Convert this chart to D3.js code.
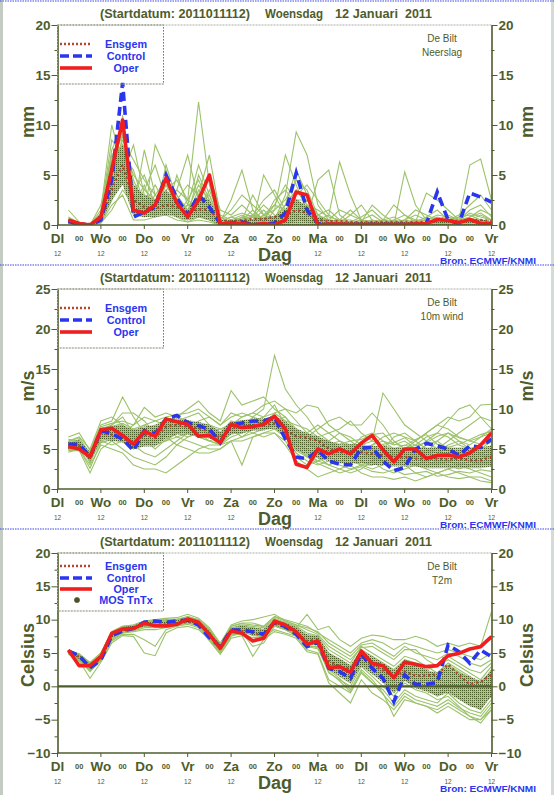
<!DOCTYPE html>
<html><head><meta charset="utf-8">
<script src="https://cdn.jsdelivr.net/npm/d3@7"></script>
<style>
html,body{margin:0;padding:0;background:#fff;}
svg{display:block;font-family:"Liberation Sans",Arial,Helvetica,sans-serif;}
</style></head><body>
<svg id="c" width="554" height="795"></svg>
<script>
// ---------------- DATA ----------------
const HOURS=[6,12,18,24,30,36,42,48,54,60,66,72,78,84,90,96,102,108,114,120,126,132,138,144,150,156,162,168,174,180,186,192,198,204,210,216,222,228,234,240];
const TICK_HOURS=[0,12,24,36,48,60,72,84,96,108,120,132,144,156,168,180,192,204,216,228,240];
const TICK_LABELS=["Dl","00","Wo","00","Do","00","Vr","00","Za","00","Zo","00","Ma","00","Dl","00","Wo","00","Do","00","Vr"];
const SUB_LABELS=["12","","12","","12","","12","","12","","","","12","","12","","12","","12","","12"];
const TITLE_PARTS=["(Startdatum: 2011011112)","Woensdag","12 Januari","2011"];
const LEGEND_ITEMS=["Ensgem","Control","Oper","MOS TnTx"];

// Neerslag (mm)
const PRECIP_OPER=[0.5,0.15,0,0.8,5.5,10.5,1.5,1.2,2.0,4.7,2.2,0.8,2.5,5.0,0.1,0.2,0.15,0,0.15,0,0.5,3.3,3.0,0,0.1,0.1,0.05,0.05,0.05,0.05,0.05,0.05,0.1,0.15,0.55,0.45,0.25,0.55,0.15,0.15];
const PRECIP_CONTROL=[0.35,0.1,0,0.5,4.5,14.2,0.8,1.3,1.8,5.0,2.7,1.0,3.0,1.8,0.15,0.2,0.3,0.05,0.05,0.2,1.2,5.2,1.5,0.15,0.05,0.05,0.05,0.05,0.05,0.05,0.05,0.05,0.05,0.15,3.3,0.5,0.15,3.2,2.8,2.3];
const PRECIP_ENSGEM=[0.4,0.15,0.1,0.6,3.5,6.0,2.5,1.8,1.6,2.0,1.8,1.2,1.6,1.5,0.4,0.4,0.5,0.6,0.6,0.8,1.0,1.5,1.2,0.5,0.4,0.4,0.3,0.3,0.3,0.3,0.3,0.3,0.3,0.3,0.4,0.5,0.4,0.5,0.5,0.4];
const PRECIP_LO=[0.1,0,0,0.3,2.5,4.0,1.0,0.8,0.8,1.0,0.8,0.5,0.8,0.5,0,0,0,0,0,0,0,0,0,0,0,0,0,0,0,0,0,0,0,0,0,0,0,0,0,0];
const PRECIP_HI=[0.6,0.2,0.1,1.2,6.5,8.0,4.0,3.0,2.5,3.5,2.5,1.5,3.0,2.5,0.5,0.5,0.6,0.6,0.8,0.9,1.6,2.6,1.9,0.8,0.5,0.4,0.3,0.3,0.3,0.3,0.3,0.3,0.3,0.3,0.3,0.3,0.3,0.5,0.6,0.4];
const PRECIP_MEMBERS=[
[0.3,0.1,0,0.8,6.0,9.5,3.0,1.5,2.0,3.5,1.5,0.8,2.0,1.2,0.1,0.3,0.5,0.2,0.1,0.3,1.0,2.5,1.5,0.3,0.1,0,0,0,0,0,0.1,0.2,0.1,0,0.1,0.2,0.3,0.5,0.4,0.2],
[0.5,0.2,0,0.3,3.0,11.0,2.0,4.0,1.0,2.5,3.0,1.0,5.0,2.5,0.2,0.1,0,0,0.3,0.8,2.0,5.5,3.0,0.5,0.2,0.3,0.1,0,0,0,0,0,0,0,0,0,0.2,0.8,1.2,0.5],
[0.2,0,0,1.2,8.5,7.0,5.5,2.0,1.0,1.5,1.0,2.5,12.3,4.0,0.5,0,0.2,0.8,0.3,0,0.5,1.0,0.5,0.1,0,0,0.1,0.5,1.0,0.3,0,0,0,0,0.2,0.5,0.3,0.1,0,0],
[1.5,0.3,0,0.5,4.5,6.5,1.5,7.5,3.0,2.0,0.8,0.5,1.5,2.0,0.3,2.5,5.5,1.5,0.2,0,0.3,0.8,0.3,0,0,0,0,0,0,0,0,0,0,0,0,0,0,0,0,0],
[0.4,0.1,0,2.0,7.0,5.0,8.0,3.0,2.5,4.0,2.0,1.0,3.0,7.0,1.0,0.5,0.2,0,0,0.5,3.0,9.3,7.0,2.0,0.5,0.2,0,0,0,0,0,0,0,0,0,0,0,0,0,0],
[0.2,0,0,0.6,5.0,8.0,2.5,1.0,8.0,5.5,1.5,0.5,0.8,0.5,0,0,0,0,0,0,0.2,0.5,0.8,4.5,5.5,1.0,0.2,0,0,0,0.5,1.0,0.5,0.2,0,0,0.5,1.5,2.0,0.8],
[0.3,0.1,0,0.3,2.5,4.5,1.0,2.0,4.0,2.0,3.5,7.0,2.5,1.0,0.1,0,0,0.2,5.0,3.0,1.0,2.0,1.0,0.5,1.0,6.3,3.0,0.5,0,0,0,0,0,0,0,0,0,0,0,0],
[0.8,0.2,0,0.2,1.5,3.5,2.0,1.5,1.0,6.0,2.5,1.5,1.0,0.5,0,0,0,0,0,0,0,0,0,0,0,0,0,0,0,0,0,0,0,0,0,0,0,0,0,0],
[0.3,0,0,1.5,10.0,6.0,3.5,5.0,2.0,1.0,5.0,2.0,6.0,3.0,0.3,0.8,0.5,3.0,1.0,0.5,0.3,1.5,2.5,1.0,0.3,0.2,1.0,2.0,0.5,0,0,0,0,0,0,0,0,0,0,0],
[0.2,0,0,0.4,3.5,9.0,4.0,2.5,1.5,3.0,1.2,0.8,1.5,1.0,0.5,0.3,0,0,0,1.5,7.0,4.0,1.5,0.3,0,0,0,0,0,0,0,5.3,2.0,0.5,0,0,0,0,0,0],
[0.5,0.1,0,0.8,4.0,7.5,1.2,0.8,1.2,1.8,0.8,0.3,0.8,1.5,0.2,0.1,0,0,0,0,0,0.5,1.0,0.5,0.2,0,0,0,0,0.5,2.0,1.0,0.3,3.2,2.5,1.5,0.5,6.0,6.6,2.5],
[0.3,0.1,0,0.5,6.0,5.5,2.0,3.5,6.0,2.5,1.0,1.5,4.0,2.5,0.3,0.2,0.5,0.5,0.5,0.5,0.8,3.5,2.0,0.5,0.3,0.5,0.3,0.2,0.3,0.5,0.3,0.2,0.5,0.5,0.8,0.5,1.0,2.0,3.0,1.5],
[0.2,0,0,0.2,2.0,3.0,0.5,0.5,0.8,1.0,0.5,0.3,0.5,0.3,0,0,0,0,0,0,0,0,0,0,0,0,0,0,0,0,0,0,0,0,0,0,0,0,0,0],
[0.6,0.2,0,1.0,5.5,8.5,6.5,4.5,3.0,4.5,2.0,1.0,2.0,5.0,1.5,1.0,2.0,1.0,2.5,3.5,1.5,1.0,0.5,0.2,0,0,0.2,0.3,2.0,1.0,0.3,0.5,1.5,1.0,0.5,0.3,0.2,0.5,1.0,0.5],
[0.3,0,0,0.6,7.5,10.0,2.5,1.8,1.5,2.5,1.5,1.0,3.5,1.5,0.2,0.5,1.0,0.5,1.5,0.5,0.2,0.8,0.5,0.2,0.2,0.5,1.5,0.5,0.2,0,0,0,0.2,0.5,1.0,0.8,0.5,1.2,0.8,0.5],
[0.2,0.1,0,0.3,4.5,6.0,3.0,2.5,2.0,3.5,4.5,2.5,1.5,0.8,0.2,0,0.3,1.0,0.5,2.0,4.0,2.5,1.2,0.5,0.3,0.2,0,0,0,0,0,0,0,0,0,0,0,0,0,0],
[0.4,0.1,0,0.7,5.0,7.0,2.0,1.5,3.0,1.5,2.5,4.0,3.0,2.0,0.5,1.5,3.0,2.0,1.0,1.5,2.5,4.5,3.5,1.0,0.5,0.3,0.2,0.5,0.3,0.2,0.2,0.5,1.0,0.5,0.3,0.5,0.8,0.5,0.3,0.2],
[0.3,0.1,0,0.4,4.0,6.5,3.5,3.0,2.0,2.5,1.0,2.0,2.5,1.5,0.4,0.8,1.2,0.8,2.0,1.0,0.5,1.5,2.0,1.5,0.8,0.5,0.3,0.8,1.5,0.5,0.2,0.2,0.3,0.2,0.5,1.0,0.5,0.3,0.5,0.3],
[0.2,0,0,0.9,6.5,9.0,4.5,2.0,1.5,4.0,3.0,1.5,1.0,3.5,0.8,0.3,0.5,1.5,0.5,2.5,3.5,2.0,1.0,0.3,0.2,0.5,0.5,0.2,0,0,0.3,0.5,0.3,0.5,0.3,0.2,0.5,0.8,1.5,1.0],
[0.6,0.2,0,0.5,3.0,5.0,2.5,2.0,1.5,2.0,2.0,1.0,2.0,1.0,0.2,0.2,0.8,1.0,0.8,0.5,1.0,2.5,2.5,1.0,1.5,0.5,0.2,0,0,0,0,0,0.2,0.3,0.2,0.1,0.1,0.3,0.5,0.2],
[0.3,0.1,0,1.1,7.0,8.0,5.0,3.5,2.5,3.0,2.0,1.0,2.5,3.0,0.3,0.5,0.2,0.3,1.0,2.0,1.5,3.0,4.0,2.5,1.0,0.3,0.2,0.3,0.5,0.3,0.5,0.2,0.3,0.8,1.5,0.5,0.2,0.3,0.2,0.2],
[0.2,0.1,0,0.3,2.5,5.5,1.5,1.0,2.5,3.0,1.5,2.0,1.5,1.0,0.2,0.1,0.3,0.5,0.3,0.2,0.5,1.0,1.5,0.5,0.3,0.2,0,0,0.2,0.5,0.8,0.3,0.2,0.1,0.2,0.3,0.8,1.0,0.5,0.3],
[0.4,0.2,0,0.6,5.0,8.0,3.0,2.5,1.8,2.8,3.5,2.5,4.5,2.0,0.5,0.3,0.8,0.5,0.2,0.5,2.0,3.5,2.0,0.8,0.5,1.5,1.0,0.5,0.2,0.1,0,0,0,0,0,0,0,0,0,0],
[0.3,0.1,0,0.8,5.5,7.2,2.8,2.2,2.2,3.2,2.2,1.4,2.2,2.0,0.3,0.4,0.6,0.8,0.6,0.8,1.2,2.2,1.6,0.6,0.4,0.3,0.3,0.2,0.2,0.2,0.2,0.3,0.2,0.3,0.4,0.4,0.3,0.6,0.5,0.3]
];

// 10m wind (m/s)
const WIND_OPER=[5.3,5.0,4.0,7.4,7.6,6.7,5.6,7.2,6.6,8.75,8.4,8.1,6.6,6.7,5.8,8.1,7.7,7.8,8.1,9.1,7.5,3.1,2.7,5.0,4.4,5.0,4.4,5.75,6.7,4.9,3.4,5.0,5.0,3.8,4.2,4.25,4.0,4.5,5.5,7.0];
const WIND_CONTROL=[5.6,5.6,4.0,7.3,6.9,6.25,4.8,7.3,6.9,8.75,9.2,8.3,7.9,7.5,5.8,8.1,8.25,8.5,8.5,8.95,6.25,4.0,3.8,4.8,3.5,3.1,3.0,5.1,5.2,3.5,2.3,2.7,5.0,5.7,5.4,5.0,4.2,5.4,5.2,6.25];
const WIND_ENSGEM=[5.4,5.4,4.2,7.0,6.8,6.4,5.6,6.8,6.4,7.8,8.0,7.8,7.6,7.2,6.4,7.6,7.8,8.0,8.0,8.2,7.4,6.6,6.4,6.0,5.0,4.6,4.6,4.6,4.4,4.2,4.0,4.0,3.8,3.8,3.8,3.7,3.8,3.6,3.6,4.0];
const WIND_LO=[5.0,5.2,3.5,6.2,6.0,5.8,5.0,5.3,5.3,6.3,6.8,6.8,6.6,6.3,5.8,6.8,7.0,7.3,7.3,7.6,6.6,4.8,4.3,3.8,3.5,3.2,3.2,3.2,3.0,3.0,2.8,2.8,2.8,2.6,2.6,2.6,2.6,2.6,2.6,2.8];
const WIND_HI=[5.9,6.1,4.6,7.7,7.8,8.0,7.4,7.8,8.0,8.8,8.8,8.6,8.4,8.0,7.2,8.4,8.6,8.8,8.8,9.2,8.4,7.6,7.0,6.6,6.0,5.6,5.6,5.6,5.4,5.4,5.2,5.2,5.2,5.2,5.2,5.2,5.2,5.2,5.2,5.4];
const WIND_MEMBERS=[
[5.5,6.0,4.5,7.5,8.0,9.0,7.0,8.0,7.5,8.5,9.0,8.5,8.0,7.5,7.0,8.5,8.0,8.5,9.0,10.5,8.0,6.0,5.5,5.0,4.5,4.0,5.0,4.5,4.0,3.5,3.0,3.5,4.0,4.5,5.0,4.0,3.5,4.0,4.5,5.0],
[5.0,5.2,3.5,6.5,7.0,7.5,6.0,5.5,6.0,7.0,7.5,8.0,7.5,7.0,6.0,7.5,8.0,8.5,8.5,9.0,7.5,6.5,7.0,6.0,5.5,6.0,5.5,5.0,5.5,6.0,5.0,4.5,4.0,3.5,3.0,3.5,4.0,3.5,3.0,3.5],
[6.5,7.0,4.8,8.0,8.5,11.5,9.0,7.0,6.5,6.0,6.5,7.0,6.5,6.0,5.5,6.5,7.0,7.5,8.0,9.5,10.0,8.5,7.0,8.0,7.0,6.0,5.0,6.5,7.0,6.0,5.5,6.0,5.0,4.5,6.0,7.0,6.0,5.5,6.5,7.0],
[4.8,4.8,2.0,5.0,6.0,5.0,4.0,3.5,3.0,4.0,5.5,6.5,7.0,6.5,5.5,7.0,7.5,7.0,7.5,8.0,6.5,4.5,3.5,3.0,3.5,3.0,2.5,3.0,3.5,2.5,2.0,2.5,3.0,2.5,2.0,2.5,3.0,2.5,2.0,1.5],
[5.8,5.5,4.0,7.0,6.5,7.0,8.0,9.0,8.5,8.0,7.0,7.5,8.5,9.0,8.0,9.0,9.5,9.0,8.5,8.5,9.0,7.5,6.0,5.0,6.0,7.0,6.5,5.5,4.5,5.0,6.5,7.0,6.0,5.0,4.5,5.5,6.0,5.0,4.5,4.0],
[5.2,5.8,3.8,6.0,5.5,6.0,5.0,6.0,7.0,8.0,8.5,9.0,9.5,8.0,7.5,8.0,7.5,9.0,10.0,16.7,12.5,10.5,9.0,7.0,6.0,5.0,4.0,3.5,3.0,4.0,5.0,5.5,5.0,4.0,3.5,3.0,2.5,3.0,3.5,3.0],
[6.0,6.5,5.0,8.5,9.0,8.0,6.5,7.5,8.0,7.5,6.5,6.0,5.5,5.0,5.0,6.0,6.5,7.0,6.5,7.0,6.0,4.0,3.0,3.5,4.0,4.5,4.0,3.0,2.5,3.0,3.5,3.0,2.0,1.5,2.0,2.5,2.0,1.5,1.0,0.8],
[5.3,5.5,4.2,7.2,7.5,6.5,5.5,4.5,4.0,5.0,6.0,7.0,6.5,6.0,6.5,7.5,8.5,8.0,8.5,9.0,8.5,8.0,7.5,6.5,7.0,7.5,8.5,7.0,6.0,12.0,10.0,8.0,7.0,6.0,5.0,6.0,7.0,8.0,9.0,8.5],
[5.6,6.2,3.2,6.8,8.0,9.5,9.5,8.5,7.0,6.5,5.5,5.0,4.5,4.5,5.0,6.0,3.0,6.5,7.0,7.5,6.5,5.5,5.0,4.0,3.0,2.5,2.0,2.5,3.5,4.5,4.0,3.5,4.5,5.5,6.0,5.0,4.0,4.5,5.0,6.0],
[6.2,6.0,4.5,7.8,8.2,8.5,8.0,10.2,9.0,9.5,9.0,10.0,11.0,9.5,8.5,12.3,10.5,11.0,11.5,10.0,9.0,7.0,6.5,7.5,8.5,9.0,8.0,8.0,9.5,8.0,6.0,5.0,6.0,7.0,8.0,9.0,8.5,9.0,10.5,10.6],
[4.9,5.0,3.0,5.5,5.0,4.5,3.0,2.5,2.5,2.0,3.0,4.0,5.0,5.5,5.5,6.0,6.0,6.5,7.0,7.0,5.5,3.5,2.5,1.5,2.0,2.5,3.0,2.0,1.5,1.5,1.2,1.5,1.0,1.5,2.0,1.5,1.3,1.5,1.5,1.0],
[5.4,5.7,4.0,6.2,7.2,7.0,6.5,6.0,5.5,6.0,7.0,7.5,7.5,7.0,6.5,7.5,7.5,8.0,8.0,8.5,7.0,5.5,5.0,4.5,4.0,3.5,3.5,3.0,3.0,3.5,4.0,3.5,3.0,3.5,4.0,4.5,4.5,4.0,4.0,4.5],
[5.9,6.4,4.4,7.6,7.8,8.2,7.5,7.0,7.5,7.0,8.0,8.5,8.0,7.5,7.0,8.0,9.0,9.5,9.0,9.5,8.5,6.5,4.5,3.5,4.5,5.0,4.5,5.5,6.0,5.5,4.5,5.0,5.5,6.5,7.0,6.5,5.5,5.0,5.5,6.0],
[5.1,5.4,3.6,6.6,6.8,6.0,5.0,5.5,6.5,7.5,7.0,6.5,7.0,8.0,7.0,7.0,7.0,7.5,8.0,8.0,7.5,6.0,5.5,5.5,5.0,4.5,5.0,4.5,4.0,4.5,4.5,4.0,4.0,3.0,3.5,3.5,3.0,3.5,3.5,3.0],
[5.7,5.9,4.6,7.4,7.6,7.8,7.2,6.8,7.8,7.2,7.6,7.8,7.8,7.6,7.4,8.2,8.4,8.2,8.6,8.8,7.8,7.0,6.8,6.2,5.6,5.2,5.6,5.4,5.0,5.6,5.8,6.4,5.4,5.8,6.6,7.0,6.4,6.0,5.6,5.8],
[5.0,5.3,3.9,6.4,6.6,6.8,6.0,6.4,5.8,6.8,7.4,7.2,6.8,6.6,6.2,7.2,7.6,7.6,7.8,8.2,7.2,5.0,4.2,5.0,4.8,4.2,3.8,4.0,4.4,4.0,3.6,4.2,4.6,4.2,3.8,4.0,4.8,4.6,4.2,3.8],
[5.4,5.6,4.2,7.0,7.2,7.4,6.4,6.8,7.0,7.8,8.0,7.6,7.4,7.0,6.6,7.6,7.8,8.0,8.2,8.6,7.6,6.4,6.0,5.6,5.2,4.8,4.6,4.8,4.6,4.4,4.2,4.4,4.2,4.0,3.8,4.0,4.2,4.0,3.8,4.2],
[5.6,5.8,4.4,7.4,7.0,7.2,6.8,7.2,6.6,8.2,8.2,8.0,7.8,7.2,6.8,8.0,8.0,8.4,8.4,8.8,8.0,7.2,6.6,6.2,5.4,5.0,4.8,5.2,5.0,4.8,4.4,4.2,4.4,4.6,4.2,4.4,4.6,4.2,4.4,4.8],
[5.2,5.0,3.8,6.8,6.4,6.2,5.4,6.0,6.2,7.6,7.8,7.8,7.2,6.8,6.2,7.4,7.4,7.8,7.6,8.0,7.0,5.8,5.6,5.2,4.6,4.0,4.2,4.0,3.8,3.6,3.4,3.6,3.2,3.0,3.2,3.4,3.2,3.0,3.2,3.6],
[5.0,5.4,3.4,6.0,6.4,7.0,7.5,8.0,8.5,9.0,9.3,9.5,10.0,9.0,8.0,9.5,9.0,9.5,10.5,11.0,10.0,9.5,10.5,10.2,8.0,7.0,6.0,5.0,4.0,3.5,3.0,4.0,5.0,6.0,7.0,8.5,10.0,10.5,9.0,7.5],
[5.8,6.0,4.4,7.0,7.6,8.0,7.0,6.5,7.5,8.0,8.5,8.0,8.2,8.0,6.5,7.5,6.5,7.5,8.0,8.5,7.0,5.5,4.0,3.5,3.0,3.5,4.0,4.5,5.5,6.5,7.0,6.5,6.0,7.0,8.0,7.5,6.5,6.0,6.5,7.5],
[5.3,5.6,3.8,6.8,7.0,7.0,6.2,6.6,6.8,7.6,7.8,7.6,7.4,7.2,6.6,7.6,7.8,8.2,8.2,8.6,7.4,6.6,6.4,6.0,5.4,5.0,4.4,4.4,4.2,4.4,4.6,4.8,4.4,4.8,5.0,4.8,4.4,4.6,5.0,5.4],
[4.6,5.0,2.6,5.8,6.2,6.4,5.6,6.2,5.0,6.2,7.0,7.4,7.0,6.0,5.6,7.0,7.0,7.4,7.6,7.6,6.6,4.8,4.0,3.2,2.6,2.0,2.4,2.8,2.2,2.0,2.4,1.8,2.0,2.2,1.6,1.8,2.2,2.0,2.4,2.2],
[5.5,5.8,4.3,7.2,7.4,7.6,6.6,7.0,7.2,8.0,8.2,8.0,7.8,7.4,6.8,7.8,8.0,8.2,8.2,8.8,7.8,7.0,6.6,6.4,5.8,5.6,6.0,6.2,6.8,7.0,5.6,5.4,6.2,6.8,5.6,5.2,5.6,6.2,6.8,7.2]
];

// T2m (Celsius)
const T2M_OPER=[5.45,3.1,3.1,4.45,7.95,8.6,8.7,9.45,9.1,9.05,9.3,10.1,9.6,7.8,5.7,8.3,7.95,6.8,7.2,9.8,9.2,8.2,6.3,6.8,2.8,2.95,2.1,5.3,3.45,3.1,1.3,3.6,3.3,2.95,3.1,4.6,4.95,5.6,5.95,7.45];
const T2M_CONTROL=[5.3,4.6,2.8,3.95,7.6,8.3,8.7,9.6,9.8,9.6,9.8,9.95,9.2,7.3,5.95,8.45,8.45,8.2,7.8,9.6,8.95,7.8,5.95,6.6,2.7,2.2,1.2,4.95,2.7,1.2,-2.3,1.7,0.3,0.3,0.6,6.2,5.2,3.45,5.45,4.45];
const T2M_ENSGEM=[5.3,4.4,3.0,4.2,7.7,8.3,8.6,9.3,9.2,9.3,9.4,9.7,9.4,7.8,6.0,8.2,8.3,8.0,7.6,9.4,8.9,8.0,6.8,7.0,3.8,3.0,2.6,4.4,3.2,2.4,1.4,2.2,1.6,1.6,1.8,3.3,1.7,0.3,0.7,1.7];
const T2M_LO=[5.0,4.1,2.6,4.0,7.3,8.2,8.5,9.0,9.0,9.0,9.2,9.6,9.1,7.4,5.5,8.0,8.1,7.7,7.5,9.2,8.6,7.8,6.3,6.2,2.5,1.5,0.5,3.0,1.8,0.5,-1.0,0.8,-0.3,-0.8,-1.5,-1.0,-2.0,-3.0,-3.5,-1.5];
const T2M_HI=[5.3,4.7,3.3,4.8,8.1,8.9,9.1,9.7,9.7,9.8,9.9,10.3,9.8,8.3,6.2,8.8,9.1,8.8,8.6,10.0,9.5,8.9,7.8,7.6,5.0,4.2,3.2,5.5,4.5,3.5,2.5,4.0,3.5,2.5,2.0,3.0,2.0,1.5,0.8,2.5];
const T2M_MEMBERS=[
[5.2,4.5,3.0,4.5,7.8,8.6,8.8,9.4,9.3,9.2,9.5,9.9,9.5,7.8,5.8,8.3,8.5,8.0,7.8,9.6,9.0,8.2,6.8,7.0,3.5,2.5,2.0,4.5,3.0,2.0,0.5,2.0,1.0,0.5,0.5,2.0,1.0,-0.5,-1.0,1.0],
[5.0,4.0,2.5,4.0,7.5,8.3,8.5,9.2,9.5,9.5,9.6,10.2,9.6,8.0,6.2,8.5,8.8,8.5,8.0,9.8,9.5,8.8,7.5,7.2,5.0,4.0,3.0,5.5,4.5,3.5,2.5,3.5,3.0,2.5,3.0,4.5,3.5,2.5,2.0,3.5],
[5.4,4.8,3.4,4.8,8.0,8.8,9.0,9.6,9.8,9.9,10.0,10.5,10.0,8.5,6.5,9.0,9.5,9.5,9.0,10.5,10.0,9.5,9.0,8.0,7.0,6.0,5.0,6.5,7.0,6.5,5.5,6.5,6.0,5.5,5.0,5.5,5.0,4.5,4.0,5.0],
[4.9,3.8,1.2,3.6,6.5,7.6,7.5,5.0,4.6,8.0,8.8,9.0,8.5,7.0,5.0,7.5,8.0,7.0,7.5,8.5,8.0,7.5,5.5,5.0,1.0,0.0,-1.0,2.0,0.5,-0.5,-2.5,-0.5,-1.5,-2.0,-2.5,-1.0,-2.5,-3.5,-4.0,-2.0],
[5.1,4.2,2.8,4.2,7.6,8.4,8.7,9.3,9.4,9.4,9.5,10.0,9.4,7.6,5.6,8.2,8.4,7.6,7.4,9.4,8.8,8.0,6.5,6.5,3.0,1.5,0.5,3.5,2.0,1.0,-1.0,1.0,0.0,-0.5,-1.0,0.0,-1.0,-2.0,-3.0,-1.5],
[5.3,4.6,3.2,4.6,7.9,8.7,9.0,9.5,9.6,9.4,9.7,10.0,9.7,8.2,6.0,8.4,8.6,8.2,8.2,9.7,9.2,8.5,7.2,7.5,4.5,3.5,2.5,5.0,3.5,2.5,1.5,3.0,2.5,1.5,1.0,3.0,2.0,1.0,0.5,2.0],
[5.0,4.3,2.6,3.8,7.0,8.0,8.2,8.5,8.5,8.8,9.0,9.5,9.0,7.2,5.2,7.8,8.0,6.0,6.5,9.0,8.5,7.8,6.0,6.0,2.0,1.0,0.0,3.0,1.5,0.0,-1.5,0.5,-0.5,-1.0,-2.0,-1.5,-3.0,-4.5,-5.5,-3.5],
[5.2,4.4,2.9,4.4,7.7,8.5,8.8,9.4,9.2,9.6,9.6,9.8,9.3,8.0,6.0,8.6,9.0,8.8,8.5,9.8,9.4,8.8,10.8,8.5,9.0,7.0,6.0,7.2,7.7,7.5,7.0,7.0,7.5,7.0,6.0,6.5,6.0,6.5,6.0,11.2],
[5.3,4.7,3.5,5.0,8.2,9.0,9.2,9.8,10.0,10.2,10.3,10.8,10.2,8.8,6.4,9.2,9.8,10.0,10.4,10.8,9.8,9.2,8.5,7.8,6.0,5.0,4.0,5.8,6.0,5.0,4.0,5.5,5.5,4.0,3.0,4.0,3.0,2.0,1.0,3.0],
[5.1,4.1,2.7,4.1,7.2,8.1,8.4,9.0,9.1,9.1,9.3,9.7,9.2,7.4,5.4,8.0,8.2,7.8,7.6,9.2,8.6,7.6,6.2,5.8,2.5,1.2,-0.5,2.5,1.0,-1.0,-4.5,-2.0,-2.5,-3.0,-4.0,-3.0,-4.0,-5.0,-5.0,-3.0],
[5.2,4.5,3.1,4.5,7.8,8.6,8.9,9.5,9.4,9.3,9.6,9.9,9.5,7.9,5.9,8.4,8.6,8.3,8.0,9.5,9.1,8.4,7.0,7.3,4.0,3.0,2.0,4.8,3.8,3.0,2.0,3.2,2.0,1.0,-0.5,0.5,-0.5,-1.5,-2.0,0.5],
[5.0,4.2,2.4,4.3,7.3,8.2,8.6,9.1,9.0,9.0,9.2,9.6,9.1,7.3,5.3,7.9,8.1,7.7,7.7,9.3,8.7,7.9,6.4,6.3,3.2,2.2,1.2,4.0,2.8,1.5,0.0,1.5,0.5,0.0,-1.5,-0.5,-1.5,-2.5,-3.5,-1.0],
[5.3,4.8,3.3,4.7,8.1,8.9,9.1,9.7,9.7,9.8,9.9,10.3,9.9,8.4,6.2,8.8,9.2,9.0,8.8,10.2,9.6,9.0,8.0,7.6,5.5,4.5,3.5,6.0,5.0,4.0,3.0,4.5,4.0,3.0,2.0,3.5,2.5,1.5,0.0,2.5],
[4.8,4.0,2.2,3.9,6.8,7.8,7.8,7.0,6.0,8.5,9.0,9.3,8.8,6.8,4.8,7.2,7.6,4.5,7.0,8.2,7.8,7.2,5.2,4.8,0.5,-1.0,-2.5,1.0,-1.0,-2.0,-3.5,-1.5,-2.5,-3.0,-3.5,-2.5,-3.5,-4.5,-5.0,-3.5],
[5.1,4.4,3.0,4.4,7.6,8.5,8.7,9.3,9.3,9.3,9.5,9.9,9.4,7.7,5.7,8.2,8.4,8.1,7.9,9.5,8.9,8.1,6.8,6.8,3.8,2.8,1.8,4.2,3.2,2.2,1.0,2.5,1.5,1.0,0.5,1.5,0.5,-0.5,-1.5,0.0],
[5.2,4.6,3.0,4.6,7.9,8.7,9.0,9.5,9.5,9.5,9.7,10.1,9.6,8.1,6.1,8.6,8.9,8.6,8.4,9.9,9.3,8.6,7.6,7.4,4.8,3.8,2.8,5.2,4.0,3.2,2.5,4.0,3.5,2.0,1.5,2.5,1.5,0.5,-0.5,1.5],
[5.2,4.5,3.1,4.5,7.8,8.6,8.9,9.5,9.5,9.6,9.7,10.0,9.6,8.0,6.0,8.5,8.7,8.4,8.2,9.7,9.2,8.4,7.0,7.2,4.2,3.2,2.2,4.6,3.6,2.6,1.8,3.0,2.4,1.8,1.2,2.4,1.2,0.2,-0.5,1.0],
[5.1,4.3,2.9,4.3,7.5,8.4,8.6,9.2,9.2,9.2,9.4,9.8,9.3,7.6,5.6,8.1,8.3,7.9,7.6,9.3,8.8,7.9,6.6,6.6,3.0,2.0,1.0,3.6,2.4,1.2,-0.5,1.2,0.2,-0.5,-1.2,-0.5,-1.8,-2.8,-3.2,-1.2],
[5.3,4.6,3.2,4.7,8.0,8.8,9.0,9.6,9.6,9.7,9.8,10.2,9.8,8.2,6.1,8.7,9.0,8.7,8.5,10.0,9.4,8.7,7.4,7.3,4.6,3.6,2.6,5.0,3.8,2.8,1.6,3.2,2.6,2.2,1.8,3.2,2.2,1.2,0.6,2.2],
[5.0,4.2,2.6,4.1,7.4,8.3,8.5,9.1,9.2,9.2,9.3,9.8,9.2,7.5,5.5,8.1,8.2,7.9,7.8,9.3,8.8,8.0,6.8,6.9,3.5,2.4,1.5,4.0,2.5,1.8,0.8,2.0,1.2,0.8,0.2,1.0,0.0,-1.0,-2.0,-0.5],
[5.2,4.4,3.0,4.4,7.7,8.5,8.7,9.3,9.3,9.4,9.5,9.9,9.4,7.8,5.8,8.3,8.5,8.2,8.0,9.6,9.0,8.3,6.9,7.1,3.9,2.9,1.9,4.3,3.3,2.4,1.2,2.8,1.8,1.2,0.8,1.8,0.8,-0.2,-1.2,0.4],
[5.4,4.9,3.6,5.0,8.2,9.0,9.2,9.8,9.9,10.0,10.1,10.4,10.0,8.6,6.3,9.0,9.4,9.2,9.0,10.4,9.8,9.2,8.8,8.2,6.5,5.5,4.5,6.2,6.5,5.5,4.5,6.0,5.0,4.5,4.0,5.0,4.5,3.5,3.0,4.0],
[5.0,4.0,2.3,4.0,7.2,8.1,8.3,8.8,8.8,8.9,9.1,9.6,9.0,7.2,5.1,7.7,7.9,7.3,7.4,9.1,8.5,7.6,6.0,5.6,2.2,0.8,-0.8,2.2,0.6,-1.2,-3.0,-1.0,-2.0,-2.5,-3.0,-2.0,-3.2,-4.0,-4.5,-2.5],
[5.1,4.4,2.9,4.3,7.6,8.4,8.7,9.2,9.3,9.3,9.4,9.8,9.3,7.6,5.6,8.2,8.4,8.0,7.7,9.4,8.9,8.1,6.7,6.7,3.3,2.3,1.4,3.8,2.6,1.6,0.5,2.2,1.0,0.4,-0.2,0.8,-0.2,-1.2,-2.5,-0.5]
];

// ---------------- DRAW ----------------
const OLIVE="#4e5c2c", GREEN="#9cc26a", DARK="#3a4a1a", BLUE="#2a35f0", RED="#f01e1e", EM="#b8452c", GREY="#a9b0a2";
const svg=d3.select("#c");
svg.append("rect").attr("width",554).attr("height",795).attr("fill","#fff");
const defs=svg.append("defs");
const pat=defs.append("pattern").attr("id","stip").attr("width",2).attr("height",2).attr("patternUnits","userSpaceOnUse");
pat.append("rect").attr("width",2).attr("height",2).attr("fill",GREEN).attr("fill-opacity",0.75);
pat.append("rect").attr("x",0).attr("y",0).attr("width",1).attr("height",1).attr("fill",DARK).attr("fill-opacity",0.85);

const X0=57.5, X1=491.5;
const x=d3.scaleLinear().domain([0,240]).range([X0,X1]);

const panels=[
 {top:0, domain:[0,20], ticks:[0,5,10,15,20], minor:[2.5,7.5,12.5,17.5], unit:"mm", name:"Neerslag",
  members:PRECIP_MEMBERS, lo:PRECIP_LO, hi:PRECIP_HI, ensgem:PRECIP_ENSGEM, control:PRECIP_CONTROL, oper:PRECIP_OPER, legendN:3, zero:false, labelY:122},
 {top:264, domain:[0,25], ticks:[0,5,10,15,20,25], minor:[2.5,7.5,12.5,17.5,22.5], unit:"m/s", name:"10m wind",
  members:WIND_MEMBERS, lo:WIND_LO, hi:WIND_HI, ensgem:WIND_ENSGEM, control:WIND_CONTROL, oper:WIND_OPER, legendN:3, zero:false, labelY:122},
 {top:528, domain:[-10,20], ticks:[-10,-5,0,5,10,15,20], minor:[-7.5,-2.5,2.5,7.5,12.5,17.5], unit:"Celsius", name:"T2m",
  members:T2M_MEMBERS, lo:T2M_LO, hi:T2M_HI, ensgem:T2M_ENSGEM, control:T2M_CONTROL, oper:T2M_OPER, legendN:4, zero:true, labelY:127}
];

svg.append("rect").attr("x",0).attr("y",0).attr("width",3).attr("height",795).attr("fill","#c3cbc3");
svg.append("rect").attr("x",551).attr("y",0).attr("width",3).attr("height",795).attr("fill","#d5dbd5");

// panel separators first, so texts are drawn above them
panels.forEach(p=>{
  svg.append("line").attr("x1",0).attr("x2",554).attr("y1",p.top+1).attr("y2",p.top+1)
    .attr("stroke","#3a48e6").attr("stroke-width",1.2).attr("stroke-dasharray","1.5,1");
});

panels.forEach((p,pi)=>{
  const T=p.top;
  const y=d3.scaleLinear().domain(p.domain).range([T+225,T+25]);
  const g=svg.append("g");

  const cid="clip"+pi;
  defs.append("clipPath").attr("id",cid).append("rect").attr("x",X0).attr("y",T+25).attr("width",X1-X0).attr("height",200);
  const pg=g.append("g").attr("clip-path",`url(#${cid})`);
  const line=d3.line().x((d,i)=>x(HOURS[i])).y(d=>y(d));
  pg.selectAll("path.m").data(p.members).join("path").attr("class","m")
    .attr("d",line).attr("fill","none").attr("stroke",GREEN).attr("stroke-width",1.1);
  const area=d3.area().x((d,i)=>x(HOURS[i])).y0((d,i)=>y(p.lo[i])).y1((d,i)=>y(p.hi[i]));
  pg.append("path").datum(p.lo).attr("d",area).attr("fill","url(#stip)");
  if(p.zero){
    pg.append("line").attr("x1",X0).attr("x2",X1).attr("y1",y(0)).attr("y2",y(0))
      .attr("stroke",OLIVE).attr("stroke-width",2.2);
  }
  pg.append("path").datum(p.ensgem).attr("d",line).attr("fill","none").attr("stroke",EM)
    .attr("stroke-width",2.4).attr("stroke-dasharray","2,3");
  pg.append("path").datum(p.control).attr("d",line).attr("fill","none").attr("stroke",BLUE)
    .attr("stroke-width",3.6).attr("stroke-dasharray","9,5");
  pg.append("path").datum(p.oper).attr("d",line).attr("fill","none").attr("stroke",RED)
    .attr("stroke-width",3.6).attr("stroke-linejoin","round");

  g.append("line").attr("x1",X0).attr("x2",X1).attr("y1",T+25).attr("y2",T+25)
    .attr("stroke",GREY).attr("stroke-width",1.2).attr("stroke-dasharray","2,1");
  g.append("line").attr("x1",X0).attr("x2",X1).attr("y1",T+225).attr("y2",T+225)
    .attr("stroke",OLIVE).attr("stroke-width",1.5);
  g.selectAll("line.xt").data(TICK_HOURS.filter((h,i)=>TICK_LABELS[i]!=="00")).join("line").attr("class","xt")
    .attr("x1",d=>x(d)).attr("x2",d=>x(d)).attr("y1",T+225).attr("y2",T+229).attr("stroke",OLIVE).attr("stroke-width",1);

  const styleAxis=(sel)=>{
    sel.select(".domain").attr("stroke",OLIVE).attr("stroke-width",1.6);
    sel.selectAll(".tick line").attr("stroke",OLIVE).attr("stroke-width",1);
    sel.selectAll(".tick text").attr("fill",OLIVE).attr("font-size",13.5).attr("font-weight","bold")
      .attr("font-family","'Liberation Sans',Arial,sans-serif");
  };
  const la=g.append("g").attr("transform",`translate(${X0},0)`)
    .call(d3.axisLeft(y).tickValues(p.ticks).tickSize(6).tickSizeOuter(0).tickPadding(1).tickFormat(d3.format("d")));
  styleAxis(la);
  const ra=g.append("g").attr("transform",`translate(${X1},0)`)
    .call(d3.axisRight(y).tickValues(p.ticks).tickSize(6).tickSizeOuter(0).tickPadding(1).tickFormat(d3.format("d")));
  styleAxis(ra);
  g.append("g").attr("transform",`translate(${X0},0)`)
    .call(d3.axisLeft(y).tickValues(p.minor).tickSize(3).tickFormat("")).call(s=>{s.select(".domain").remove();s.selectAll("line").attr("stroke",OLIVE);});
  g.append("g").attr("transform",`translate(${X1},0)`)
    .call(d3.axisRight(y).tickValues(p.minor).tickSize(3).tickFormat("")).call(s=>{s.select(".domain").remove();s.selectAll("line").attr("stroke",OLIVE);});

  TICK_HOURS.forEach((h,i)=>{
    const lab=TICK_LABELS[i];
    if(lab==="00"){
      g.append("text").attr("x",x(h)).attr("y",T+240.5).attr("text-anchor","middle")
        .attr("font-size",7.5).attr("font-weight","bold").attr("fill",OLIVE).text(lab);
    }else{
      g.append("text").attr("x",x(h)).attr("y",T+243).attr("text-anchor","middle")
        .attr("font-size",13.5).attr("font-weight","bold").attr("fill",OLIVE).text(lab);
    }
    if(SUB_LABELS[i]){
      g.append("text").attr("x",x(h)).attr("y",T+255.5).attr("text-anchor","middle")
        .attr("font-size",6.5).attr("fill",OLIVE).text(SUB_LABELS[i]);
    }
  });
  g.append("text").attr("x",275).attr("y",T+261).attr("text-anchor","middle")
    .attr("font-size",18).attr("font-weight","bold").attr("fill",OLIVE).text("Dag");
  g.append("text").attr("x",440).attr("y",T+264).attr("font-size",9.5).attr("font-weight","bold")
    .attr("fill",BLUE).attr("textLength",96).attr("lengthAdjust","spacingAndGlyphs").text("Bron: ECMWF/KNMI");

  const tp=[[100,150],[265,58],[335,63],[405,27]];
  TITLE_PARTS.forEach((t,i)=>{
    g.append("text").attr("x",tp[i][0]).attr("y",T+18).attr("font-size",12.5).attr("font-weight","bold")
      .attr("fill",OLIVE).attr("textLength",tp[i][1]).attr("lengthAdjust","spacingAndGlyphs").text(t);
  });
  g.append("text").attr("x",442).attr("y",T+42).attr("text-anchor","middle").attr("font-size",10).attr("fill",OLIVE).text("De Bilt");
  g.append("text").attr("x",442).attr("y",T+55.5).attr("text-anchor","middle").attr("font-size",10).attr("fill",OLIVE).text(p.name);

  g.append("text").attr("transform",`translate(34,${T+p.labelY}) rotate(-90)`).attr("text-anchor","middle")
    .attr("font-size",18).attr("font-weight","bold").attr("fill",OLIVE).text(p.unit);
  g.append("text").attr("transform",`translate(533,${T+p.labelY}) rotate(-90)`).attr("text-anchor","middle")
    .attr("font-size",18).attr("font-weight","bold").attr("fill",OLIVE).text(p.unit);

  const four=p.legendN===4;
  const ly=four?[38,50,61,72]:[44,56,68];
  const bh=four?83:84;
  g.append("rect").attr("x",X0).attr("y",T+25).attr("width",106).attr("height",bh-25)
    .attr("fill","none").attr("stroke",GREY).attr("stroke-width",1).attr("stroke-dasharray","2,1");
  g.append("rect").attr("x",X0).attr("y",T+25).attr("width",106).attr("height",bh-25)
    .attr("fill","none").attr("stroke",OLIVE).attr("stroke-width",0.6).attr("stroke-dasharray","1,2");
  const styles=[[EM,2.4,"2,2"],[BLUE,3.6,"9,4"],[RED,3.6,null]];
  for(let k=0;k<p.legendN;k++){
    const yy=T+ly[k];
    if(k<3){
      const l=g.append("line").attr("x1",60).attr("x2",92).attr("y1",yy).attr("y2",yy)
        .attr("stroke",styles[k][0]).attr("stroke-width",styles[k][1]);
      if(styles[k][2]) l.attr("stroke-dasharray",styles[k][2]);
    }else{
      g.append("circle").attr("cx",77).attr("cy",yy).attr("r",2.6).attr("fill","#3e5a2a").attr("stroke","#7a3a2a").attr("stroke-width",0.6);
    }
    g.append("text").attr("x",126).attr("y",yy+4).attr("text-anchor","middle").attr("font-size",10.8)
      .attr("font-weight","bold").attr("fill",BLUE).text(LEGEND_ITEMS[k]);
  }
});
</script>
</body></html>
